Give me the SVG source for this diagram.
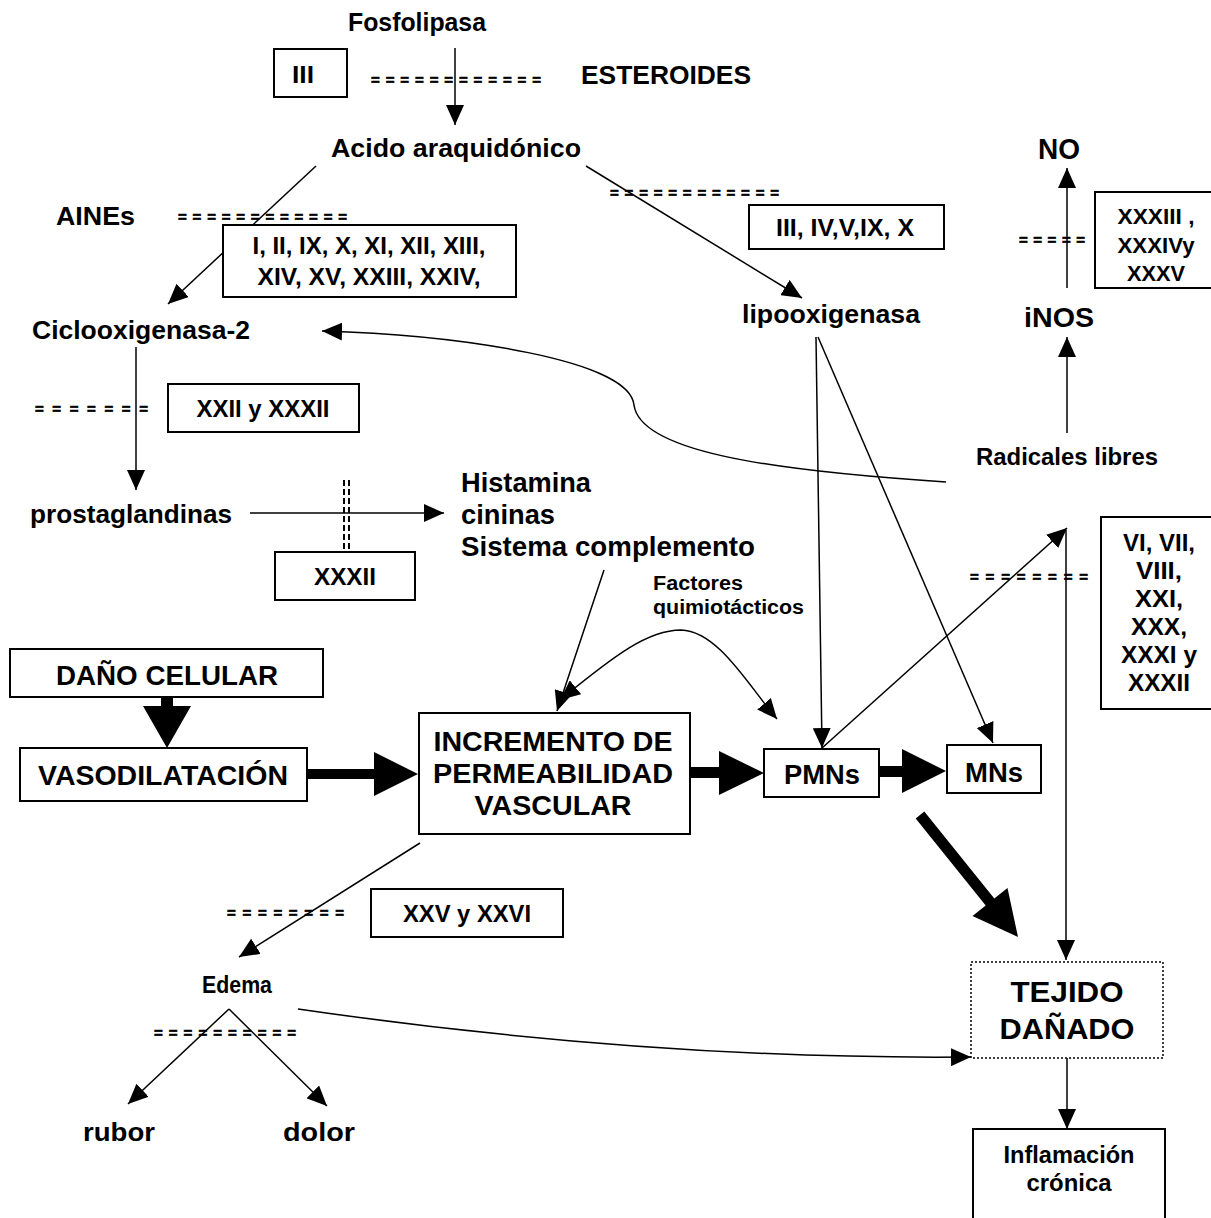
<svg xmlns="http://www.w3.org/2000/svg" width="1211" height="1218" viewBox="0 0 1211 1218">
<style>
text{font-family:"Liberation Sans",Arial,sans-serif;font-weight:bold;fill:#000}
.box{fill:#fff;stroke:#000;stroke-width:2}
.dot{fill:#fff;stroke:#000;stroke-width:1.5;stroke-dasharray:2 2}
.ln{fill:none;stroke:#000;stroke-width:1.5}
.ar{marker-end:url(#ah)}
.eq{font-size:15px;stroke:#000;stroke-width:0.6}
.thick{fill:#000}
.dd{stroke:#000;stroke-width:2;stroke-dasharray:6 3}
.c{text-anchor:middle}
</style>
<defs>
<marker id="ah" markerUnits="userSpaceOnUse" viewBox="0 0 20 18" refX="20" refY="9" markerWidth="20" markerHeight="18" orient="auto-start-reverse"><path d="M0,0 L20,9 L0,18 z"/></marker>
</defs>
<rect width="1211" height="1218" fill="#fff"/>

<g id="connectors">
<path class="ln ar" d="M455,48 L455,125"/>
<path class="ln ar" d="M316,166 L168,304"/>
<path class="ln ar" d="M586,166 L802,298"/>
<path class="ln ar" d="M136,347 L136,490"/>
<path class="ln ar" d="M250,513 L444,513"/>
<path class="ln ar" d="M946,482 C760,470 640,450 634,405 C630,360 460,335 322,331"/>
<path class="ln ar" d="M816,337 L822,748"/>
<path class="ln ar" d="M818,337 L993,743"/>
<path class="ln ar" d="M822,748 L1067,528"/>
<path class="ln ar" d="M1067,288 L1067,168"/>
<path class="ln ar" d="M1067,433 L1067,337"/>
<path class="ln ar" d="M1066,530 L1066,960"/>
<path class="ln ar" d="M604,570 L557,711"/>
<path class="ln ar" style="marker-start:url(#ah)" d="M560,700 C615,655 648,630 681,630 C718,631 748,685 777,719"/>
<path class="ln ar" d="M420,843 L239,957"/>
<path class="ln ar" d="M229,1009 L128,1104"/>
<path class="ln ar" d="M229,1009 L327,1106"/>
<path class="ln ar" d="M298,1009 Q650,1060 971,1057"/>
<path class="ln ar" d="M1067,1058 L1067,1129"/>
<line class="dd" x1="344" y1="480" x2="344" y2="553"/>
<line class="dd" x1="349" y1="480" x2="349" y2="553"/>
<polygon class="thick" points="161,697 173,697 173,706 191,706 167,748 143,706 161,706"/>
<polygon class="thick" points="307,769 374,769 374,752 418,774 374,796 374,779 307,779"/>
<polygon class="thick" points="690,767 719,767 719,751 764,773 719,795 719,778 690,778"/>
<polygon class="thick" points="878,766 902,766 902,749 946,771 902,793 902,777 878,777"/>
<polygon class="thick" points="915.7,818.4 924.3,811.6 994.3,898.6 1007.5,887.9 1018,937 972.5,916.1 985.7,905.4"/>
</g>

<g id="dashes">
<text class="eq" x="371" y="85" textLength="170" lengthAdjust="spacing">= = = = = = = = = = = =</text>
<text class="eq" x="178" y="222" textLength="169" lengthAdjust="spacing">= = = = = = = = = = = =</text>
<text class="eq" x="610" y="198" textLength="169" lengthAdjust="spacing">= = = = = = = = = = = =</text>
<text class="eq" x="1019" y="245" textLength="66" lengthAdjust="spacing">= = = = =</text>
<text class="eq" x="35" y="414" textLength="113" lengthAdjust="spacing">= = = = = = =</text>
<text class="eq" x="970" y="582" textLength="118" lengthAdjust="spacing">= = = = = = = =</text>
<text class="eq" x="227" y="918" textLength="117" lengthAdjust="spacing">= = = = = = = =</text>
<text class="eq" x="154" y="1038" textLength="142" lengthAdjust="spacing">= = = = = = = = = =</text>
</g>

<g id="fosfolipasa"><text x="348" y="31" font-size="25" textLength="138" lengthAdjust="spacingAndGlyphs">Fosfolipasa</text></g>
<g id="box-iii"><rect class="box" x="274" y="49" width="73" height="48"/><text x="303" y="83" font-size="24" class="c" textLength="22" lengthAdjust="spacingAndGlyphs">III</text></g>
<g id="esteroides"><text x="581" y="84" font-size="26" textLength="170" lengthAdjust="spacingAndGlyphs">ESTEROIDES</text></g>
<g id="acido"><text x="331" y="157" font-size="26" textLength="250" lengthAdjust="spacingAndGlyphs">Acido araquidónico</text></g>
<g id="aines"><text x="56" y="225" font-size="25" textLength="79" lengthAdjust="spacingAndGlyphs">AINEs</text></g>
<g id="box-aines"><rect class="box" x="223" y="225" width="293" height="72"/>
<text x="369" y="254" font-size="23" class="c" textLength="233" lengthAdjust="spacingAndGlyphs">I, II, IX, X, XI, XII, XIII,</text>
<text x="369" y="285" font-size="23" class="c" textLength="223" lengthAdjust="spacingAndGlyphs">XIV, XV, XXIII, XXIV,</text></g>
<g id="ciclo"><text x="32" y="339" font-size="26" textLength="218" lengthAdjust="spacingAndGlyphs">Ciclooxigenasa-2</text></g>
<g id="lipo"><text x="742" y="323" font-size="26" textLength="178" lengthAdjust="spacingAndGlyphs">lipooxigenasa</text></g>
<g id="box-lipo"><rect class="box" x="749" y="205" width="195" height="44"/><text x="845" y="236" font-size="23" class="c" textLength="138" lengthAdjust="spacingAndGlyphs">III, IV,V,IX, X</text></g>
<g id="no"><text x="1059" y="159" font-size="29" class="c" textLength="42" lengthAdjust="spacingAndGlyphs">NO</text></g>
<g id="box-nos"><rect class="box" x="1095" y="192" width="121" height="96"/>
<text x="1156" y="224" font-size="22" class="c" textLength="77" lengthAdjust="spacingAndGlyphs">XXXIII ,</text>
<text x="1156" y="253" font-size="22" class="c" textLength="77" lengthAdjust="spacingAndGlyphs">XXXIVy</text>
<text x="1156" y="281" font-size="22" class="c" textLength="58" lengthAdjust="spacingAndGlyphs">XXXV</text></g>
<g id="inos"><text x="1024" y="327" font-size="28" textLength="70" lengthAdjust="spacingAndGlyphs">iNOS</text></g>
<g id="radicales"><text x="976" y="465" font-size="24" textLength="182" lengthAdjust="spacingAndGlyphs">Radicales libres</text></g>
<g id="box-xxii"><rect class="box" x="168" y="384" width="191" height="48"/><text x="263" y="417" font-size="24" class="c" textLength="133" lengthAdjust="spacingAndGlyphs">XXII y XXXII</text></g>
<g id="prosta"><text x="30" y="523" font-size="26" textLength="202" lengthAdjust="spacingAndGlyphs">prostaglandinas</text></g>
<g id="histamina">
<text x="461" y="492" font-size="27" textLength="130" lengthAdjust="spacingAndGlyphs">Histamina</text>
<text x="461" y="524" font-size="27" textLength="94" lengthAdjust="spacingAndGlyphs">cininas</text>
<text x="461" y="556" font-size="27" textLength="294" lengthAdjust="spacingAndGlyphs">Sistema complemento</text></g>
<g id="box-xxxii"><rect class="box" x="275" y="552" width="140" height="48"/><text x="345" y="585" font-size="24" class="c" textLength="62" lengthAdjust="spacingAndGlyphs">XXXII</text></g>
<g id="factores">
<text x="653" y="590" font-size="20" textLength="90" lengthAdjust="spacingAndGlyphs">Factores</text>
<text x="653" y="614" font-size="20" textLength="151" lengthAdjust="spacingAndGlyphs">quimiotácticos</text></g>
<g id="dano"><rect class="box" x="10" y="649" width="313" height="48"/><text x="167" y="685" font-size="27" class="c" textLength="222" lengthAdjust="spacingAndGlyphs">DAÑO CELULAR</text></g>
<g id="vaso"><rect class="box" x="20" y="748" width="287" height="53"/><text x="163" y="785" font-size="27" class="c" textLength="250" lengthAdjust="spacingAndGlyphs">VASODILATACIÓN</text></g>
<g id="incremento"><rect class="box" x="419" y="713" width="271" height="121"/>
<text x="553" y="751" font-size="27" class="c" textLength="239" lengthAdjust="spacingAndGlyphs">INCREMENTO DE</text>
<text x="553" y="783" font-size="27" class="c" textLength="240" lengthAdjust="spacingAndGlyphs">PERMEABILIDAD</text>
<text x="553" y="815" font-size="27" class="c" textLength="157" lengthAdjust="spacingAndGlyphs">VASCULAR</text></g>
<g id="pmns"><rect class="box" x="764" y="749" width="115" height="48"/><text x="822" y="784" font-size="27" class="c" textLength="76" lengthAdjust="spacingAndGlyphs">PMNs</text></g>
<g id="mns"><rect class="box" x="947" y="745" width="94" height="48"/><text x="994" y="782" font-size="27" class="c" textLength="58" lengthAdjust="spacingAndGlyphs">MNs</text></g>
<g id="box-vi"><rect class="box" x="1101" y="517" width="115" height="192"/>
<text x="1159" y="551" font-size="24" class="c" textLength="72" lengthAdjust="spacingAndGlyphs">VI, VII,</text>
<text x="1159" y="579" font-size="24" class="c" textLength="46" lengthAdjust="spacingAndGlyphs">VIII,</text>
<text x="1159" y="607" font-size="24" class="c" textLength="48" lengthAdjust="spacingAndGlyphs">XXI,</text>
<text x="1159" y="635" font-size="24" class="c" textLength="56" lengthAdjust="spacingAndGlyphs">XXX,</text>
<text x="1159" y="663" font-size="24" class="c" textLength="76" lengthAdjust="spacingAndGlyphs">XXXI y</text>
<text x="1159" y="691" font-size="24" class="c" textLength="62" lengthAdjust="spacingAndGlyphs">XXXII</text></g>
<g id="box-xxv"><rect class="box" x="371" y="889" width="192" height="48"/><text x="467" y="922" font-size="24" class="c" textLength="128" lengthAdjust="spacingAndGlyphs">XXV y XXVI</text></g>
<g id="edema"><text x="202" y="993" font-size="23" textLength="70" lengthAdjust="spacingAndGlyphs">Edema</text></g>
<g id="rubor"><text x="83" y="1141" font-size="26" textLength="72" lengthAdjust="spacingAndGlyphs">rubor</text></g>
<g id="dolor"><text x="283" y="1141" font-size="26" textLength="72" lengthAdjust="spacingAndGlyphs">dolor</text></g>
<g id="tejido"><rect class="dot" x="971" y="962" width="192" height="96"/>
<text x="1067" y="1002" font-size="30" class="c" textLength="113" lengthAdjust="spacingAndGlyphs">TEJIDO</text>
<text x="1067" y="1039" font-size="30" class="c" textLength="135" lengthAdjust="spacingAndGlyphs">DAÑADO</text></g>
<g id="inflamacion"><rect class="box" x="973" y="1129" width="192" height="100"/>
<text x="1069" y="1163" font-size="23" class="c" textLength="131" lengthAdjust="spacingAndGlyphs">Inflamación</text>
<text x="1069" y="1191" font-size="23" class="c" textLength="85" lengthAdjust="spacingAndGlyphs">crónica</text></g>
</svg>
